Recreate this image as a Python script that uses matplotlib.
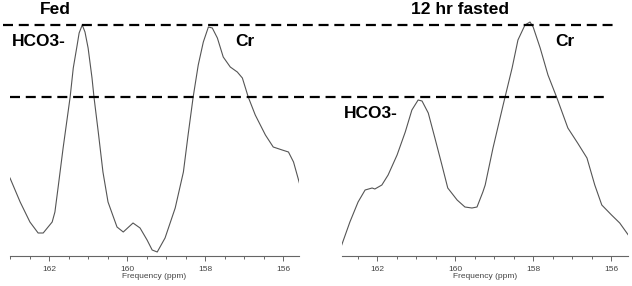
import matplotlib.pyplot as plt
from matplotlib.lines import Line2D
from matplotlib.transforms import blended_transform_factory
from matplotlib.ticker import MultipleLocator
plt.rcParams['font.family'] = ['Liberation Sans', 'DejaVu Sans']

# spectra: frequency (ppm) and signal height (a.u.)
fed_ppm = [163.00, 162.74, 162.49, 162.28, 162.15, 161.92, 161.85, 161.77, 161.64, 161.46,
           161.38, 161.28, 161.23, 161.15, 161.08, 161.00, 160.90, 160.85, 160.74, 160.62,
           160.49, 160.38, 160.26, 160.10, 159.85, 159.67, 159.49, 159.36, 159.23, 159.03,
           158.77, 158.56, 158.44, 158.31, 158.18, 158.05, 157.92, 157.82, 157.69, 157.54,
           157.36, 157.18, 157.05, 156.90, 156.72, 156.46, 156.26, 156.03, 155.87, 155.74,
           155.59]
fed_sig = [78, 54, 34, 23, 23, 34, 44, 68, 108, 159,
           188, 211, 223, 231, 224, 208, 178, 159, 124, 84,
           54, 42, 29, 24, 33, 28, 16, 6, 4, 18,
           48, 84, 121, 159, 191, 214, 229, 228, 218, 199,
           189, 184, 178, 159, 141, 121, 109, 106, 104, 94,
           73]

fast_ppm = [162.91, 162.70, 162.49, 162.31, 162.13, 162.06, 161.88, 161.72, 161.49, 161.28,
            161.11, 160.95, 160.85, 160.69, 160.52, 160.34, 160.19, 159.95, 159.75, 159.57,
            159.44, 159.29, 159.23, 159.03, 158.77, 158.54, 158.39, 158.21, 158.08, 158.00,
            157.82, 157.62, 157.39, 157.11, 156.86, 156.62, 156.42, 156.24, 155.99, 155.78,
            155.56]
fast_sig = [11, 34, 54, 66, 68, 67, 71, 81, 101, 124,
            146, 156, 155, 143, 118, 91, 68, 56, 49, 48,
            49, 64, 71, 108, 151, 188, 216, 231, 234, 229,
            208, 181, 158, 128, 113, 98, 71, 51, 41, 33,
            21]

tick_vals = [162, 160, 158, 156]
ref_levels = [231, 159]   # dashed guide lines: fed HCO3- peak, fasted HCO3- peak

W, H = 632, 286
fig = plt.figure(figsize=(W / 100, H / 100), dpi=100)

def make_ax(x0, x1, xlim):
    ax = fig.add_axes([x0 / W, (H - 256) / H, (x1 - x0) / W, 256 / H])
    ax.set_xlim(*xlim)
    ax.set_ylim(0, 256)
    for s in ['top', 'right', 'left']:
        ax.spines[s].set_visible(False)
    ax.spines['bottom'].set_color('#666')
    ax.spines['bottom'].set_linewidth(0.8)
    ax.set_yticks([])
    ax.set_xticks(tick_vals)
    ax.xaxis.set_minor_locator(MultipleLocator(0.5))
    ax.tick_params(axis='x', which='major', length=3.5, width=0.7, color='#666',
                   labelsize=6, labelcolor='#444', pad=3.5)
    ax.tick_params(axis='x', which='minor', length=2.5, width=0.7, color='#666')
    ax.set_xlabel('Frequency (ppm)', fontsize=6, color='#444', labelpad=0.5)
    return ax

axL = make_ax(10, 299, (163.0, 155.60))
axR = make_ax(341.7, 628.3, (162.91, 155.56))

axL.plot(fed_ppm, fed_sig, color='#555', lw=0.8)
axR.plot(fast_ppm, fast_sig, color='#555', lw=0.8)

# dashed reference lines across both panels
tr = blended_transform_factory(fig.transFigure, axL.transData)
spans = [(3, 616), (10, 607)]
for lvl, (a, b) in zip(ref_levels, spans):
    fig.add_artist(Line2D([a / W, b / W], [lvl, lvl], transform=tr, color='black',
                          lw=1.6, linestyle=(0, (4.5, 2.6))))

fs = 12.5
fig.text(55 / W, 1 - 10 / H, 'Fed', fontsize=fs, fontweight='bold', ha='center', va='center')
fig.text(460 / W, 1 - 10 / H, '12 hr fasted', fontsize=fs, fontweight='bold', ha='center', va='center')
fig.text(12 / W, 1 - 42 / H, 'HCO3-', fontsize=fs, fontweight='bold', ha='left', va='center')
fig.text(235 / W, 1 - 42 / H, 'Cr', fontsize=fs, fontweight='bold', ha='left', va='center')
fig.text(555 / W, 1 - 42 / H, 'Cr', fontsize=fs, fontweight='bold', ha='left', va='center')
fig.text(344 / W, 1 - 113 / H, 'HCO3-', fontsize=fs, fontweight='bold', ha='left', va='center')

fig.savefig('out.png', dpi=100)
